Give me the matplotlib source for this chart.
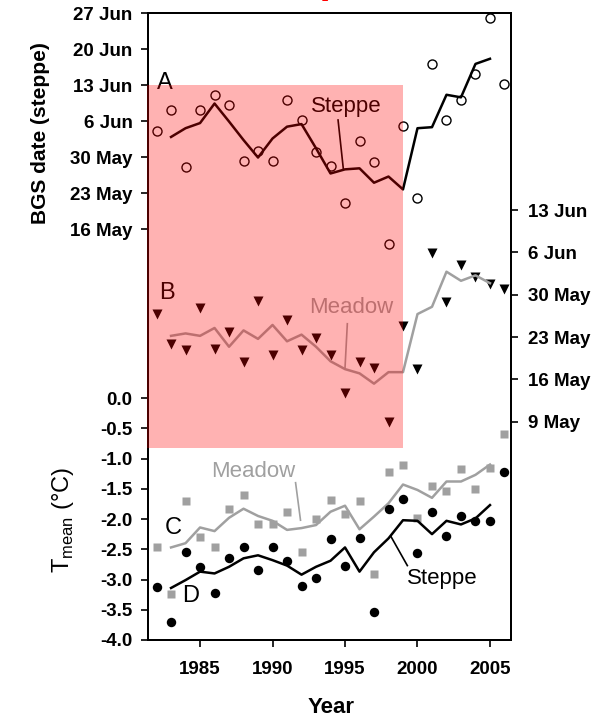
#!/usr/bin/env python3
"""BGS dates (steppe / meadow) and mean temperature, 1982-2006."""

import matplotlib
matplotlib.use("Agg")
import matplotlib.pyplot as plt
from matplotlib.patches import Rectangle

plt.rcParams["font.family"] = ["Liberation Sans", "DejaVu Sans"]
plt.rcParams["mathtext.fontset"] = "custom"
plt.rcParams["mathtext.rm"] = "Liberation Sans"

years = list(range(1982, 2007))
years_avg = list(range(1983, 2006))

# day of year of the beginning of the growing season
steppe_bgs = [155.1, 159.1, 148.1, 159.1, 162.1, 160.1, 149.2, 151.2, 149.2, 161.1,
              157.2, 151.0, 148.3, 141.1, 153.1, 149.0, 133.1, 156.0, 142.0, 168.1,
              157.2, 161.1, 166.1, 177.0, 164.2]
steppe_bgs_avg = [153.9, 155.6, 156.6, 160.4, 156.9, 153.3, 149.9, 153.6, 155.9, 156.4,
                  151.7, 146.8, 147.6, 147.8, 145.0, 146.2, 143.7, 155.6, 155.8, 162.1,
                  161.6, 168.1, 169.1]
meadow_bgs = [146.8, 141.8, 140.9, 147.8, 141.0, 143.9, 138.9, 148.9, 140.0, 145.8,
              140.9, 142.9, 140.0, 133.8, 138.9, 137.9, 128.9, 144.9, 137.8, 156.9,
              148.8, 154.9, 152.9, 151.8, 150.9]
meadow_bgs_avg = [143.2, 143.6, 143.2, 144.5, 141.4, 144.1, 142.7, 145.0, 142.3, 143.4,
                  141.4, 139.0, 137.7, 137.0, 135.3, 137.2, 137.2, 146.8, 148.0, 153.8,
                  152.3, 153.2, 151.9]

# mean temperature (deg C)
meadow_t = [-2.47, -3.24, -1.71, -2.29, -2.47, -1.84, -1.61, -2.09, -2.09, -1.89,
            -2.55, -2.00, -1.69, -1.92, -1.70, -2.91, -1.23, -1.11, -1.98, -1.45,
            -1.54, -1.17, -1.50, -1.15, -0.60]
meadow_t_avg = [-2.47, -2.40, -2.14, -2.20, -1.98, -1.83, -1.95, -2.03, -2.18, -2.15,
                -2.10, -1.88, -1.78, -2.17, -1.96, -1.74, -1.43, -1.52, -1.65, -1.38,
                -1.38, -1.27, -1.10]
steppe_t = [-3.13, -3.70, -2.55, -2.79, -3.22, -2.64, -2.47, -2.85, -2.47, -2.69,
            -3.10, -2.97, -2.33, -2.77, -2.31, -3.53, -1.84, -1.67, -2.56, -1.89,
            -2.28, -1.95, -2.03, -2.03, -1.23]
steppe_t_avg = [-3.14, -3.01, -2.87, -2.90, -2.79, -2.65, -2.60, -2.68, -2.77, -2.92,
                -2.79, -2.69, -2.47, -2.87, -2.55, -2.32, -2.02, -2.03, -2.25, -2.03,
                -2.09, -1.99, -1.77]

steppe_ticks = [136, 143, 150, 157, 164, 171, 178]
steppe_labels = ["16 May", "23 May", "30 May", "6 Jun", "13 Jun", "20 Jun", "27 Jun"]
meadow_ticks = [129, 136, 143, 150, 157, 164]
meadow_labels = ["9 May", "16 May", "23 May", "30 May", "6 Jun", "13 Jun"]
temp_ticks = [-4.0, -3.5, -3.0, -2.5, -2.0, -1.5, -1.0, -0.5, 0.0]
year_ticks = [1985, 1990, 1995, 2000, 2005]

GRAY = "#a0a0a0"
TICK_FONT = dict(fontsize=13.5, fontweight="bold")
LABEL_FONT = dict(fontsize=16)

fig = plt.figure(figsize=(5.97, 7.19), dpi=100)
ax = fig.add_axes([148 / 597, 79 / 719, 363 / 597, 627 / 719])
ax_s = ax.twinx()
ax_m = ax.twinx()

for a in (ax, ax_s, ax_m):
    for sp in a.spines.values():
        sp.set_linewidth(1.3)
    a.tick_params(width=1.2, length=5)

ax.set_xlim(1981.41, 2006.45)
ax.set_ylim(-4.0, 6.364)
ax_s.set_ylim(56.09, 178.0)
ax_m.set_ylim(92.93, 196.56)

# temperature panel (C, D)
ax.plot(years, meadow_t, "s", color=GRAY, ms=5.6, mec="none")
ax.plot(years_avg, meadow_t_avg, "-", color=GRAY, lw=1.8)
ax.plot(years, steppe_t, "o", color="black", ms=6.8, mec="none")
ax.plot(years_avg, steppe_t_avg, "-", color="black", lw=1.8)

ax.set_xticks(year_ticks)
ax.set_xticklabels([str(y) for y in year_ticks], **TICK_FONT)
ax.set_yticks(temp_ticks)
ax.set_yticklabels([f"{t:.1f}" for t in temp_ticks], **TICK_FONT)
ax.tick_params(axis="x", pad=10)
ax.tick_params(axis="y", pad=6, right=False)

ax.text(1983.16, -2.15, "C", fontsize=17, ha="center", va="center")
ax.text(1984.38, -3.28, "D", fontsize=17, ha="center", va="center")
ax.text(1988.69, -1.22, "Meadow", color=GRAY, ha="center", va="center", **LABEL_FONT)
ax.plot([1991.59, 1991.93], [-1.40, -2.02], color=GRAY, lw=1.2)
ax.text(2001.74, -2.98, "Steppe", color="black", ha="center", va="center", **LABEL_FONT)
ax.plot([1998.17, 1999.30], [-2.29, -2.77], color="black", lw=1.2)

# steppe BGS panel (A), left axis
ax_s.yaxis.tick_left()
ax_s.plot(years, steppe_bgs, "o", mfc="none", mec="black", ms=6.5, mew=1.0)
ax_s.plot(years_avg, steppe_bgs_avg, "-", color="black", lw=1.8)
ax_s.set_yticks(steppe_ticks)
ax_s.set_yticklabels(steppe_labels, **TICK_FONT)
ax_s.tick_params(axis="y", pad=6, right=False)
ax_s.text(1982.59, 164.3, "A", fontsize=17, ha="center", va="center")
ax_s.text(1995.12, 159.9, "Steppe", color="black", ha="center", va="center", **LABEL_FONT)
ax_s.plot([1994.52, 1994.88], [157.2, 147.8], color="black", lw=1.2)

# meadow BGS panel (B), right axis
ax_m.plot(years, meadow_bgs, "v", color="black", ms=7, mec="none")
ax_m.plot(years_avg, meadow_bgs_avg, "-", color=GRAY, lw=1.8)
ax_m.set_yticks(meadow_ticks)
ax_m.set_yticklabels(meadow_labels, **TICK_FONT)
ax_m.tick_params(axis="y", pad=7)
ax_m.text(1982.7, 150.2, "B", fontsize=17, ha="center", va="center")
ax_m.text(1995.46, 147.9, "Meadow", color=GRAY, ha="center", va="center", **LABEL_FONT)
ax_m.plot([1995.16, 1995.0], [145.2, 137.9], color=GRAY, lw=1.2)

# shaded period, drawn over everything in the two upper panels
shade = Rectangle((1981.36, -0.83), 1999.0 - 1981.36, 5.17 + 0.83,
                  transform=ax.transData, facecolor="red", alpha=0.3,
                  edgecolor="none", zorder=10, clip_on=False)
ax_m.add_patch(shade)
ax_m.set_ylim(92.93, 196.56)

ax.text(-0.2975, 0.8086, "BGS date (steppe)", transform=ax.transAxes, rotation=90,
        ha="center", va="center", fontsize=15, fontweight="bold")
ax.text(-0.234, 0.191, r"T$_{\mathrm{mean}}$ (°C)", transform=ax.transAxes, rotation=90,
        ha="center", va="center", fontsize=17)
ax.text(0.504, -0.108, "Year", transform=ax.transAxes, ha="center", va="center",
        fontsize=16, fontweight="bold")

# title of the original figure, cropped off above the picture
fig.text(328 / 597, 1.0 + 4 / 719, "p", color="red", fontsize=16, fontweight="bold",
         family="Liberation Serif", ha="center", va="baseline")

fig.savefig("out.png", dpi=100)
